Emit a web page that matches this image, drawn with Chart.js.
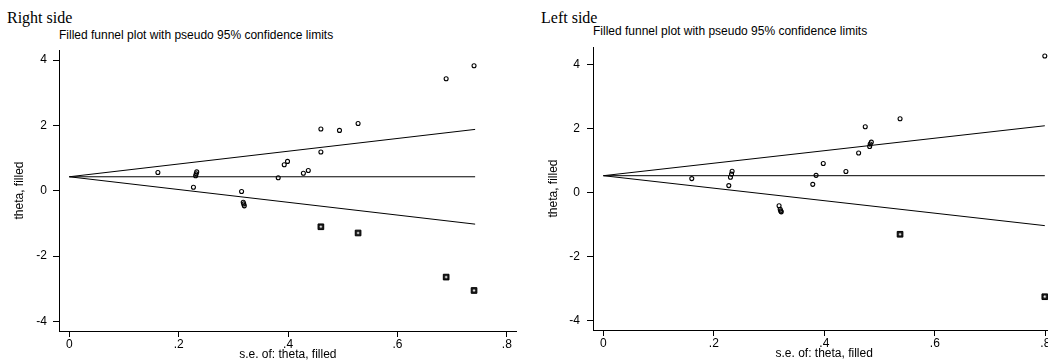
<!DOCTYPE html>
<html>
<head>
<meta charset="utf-8">
<script src="https://cdn.jsdelivr.net/npm/chart.js@4.4.1/dist/chart.umd.min.js"></script>
<style>
    html, body { margin: 0; padding: 0; background: #fff; width: 1048px; height: 360px; overflow: hidden; }
    .panel { position: absolute; top: 0; }
    .side { position: absolute; font-family: "Liberation Serif", "Times New Roman", serif; font-size: 16px; line-height: 16px; color: #000; white-space: nowrap; }
    .sub { position: absolute; font-family: "Liberation Sans", Arial, sans-serif; font-size: 12px; line-height: 12px; color: #000; white-space: nowrap; }
</style>
</head>
<body>

<div class="side" style="left:7px; top:10px;">Right side</div>
<div class="sub" style="left:59px; top:29px;">Filled funnel plot with pseudo 95% confidence limits</div>
<div class="panel" style="left:0px;"><canvas id="rightChart" width="524" height="360"></canvas></div>

<div class="side" style="left:541px; top:10px;">Left side</div>
<div class="sub" style="left:593px; top:25px;">Filled funnel plot with pseudo 95% confidence limits</div>
<div class="panel" style="left:524px;"><canvas id="leftChart" width="540" height="360"></canvas></div>

<script>
// ticks
var seTicks = [0, 0.2, 0.4, 0.6, 0.8];
var thetaTicks = [-4, -2, 0, 2, 4];

// "Right side" panel - observed studies
var rightSE = [0.162, 0.227, 0.231, 0.232, 0.233, 0.315, 0.318, 0.319, 0.320, 0.382,
               0.393, 0.399, 0.428, 0.437, 0.460, 0.460, 0.494, 0.528, 0.689, 0.740];
var rightTheta = [0.56, 0.11, 0.46, 0.52, 0.58, -0.02, -0.35, -0.40, -0.46, 0.40,
                  0.80, 0.90, 0.54, 0.62, 1.19, 1.89, 1.85, 2.06, 3.43, 3.83];
// filled (imputed) studies
var rightFilledSE = [0.460, 0.528, 0.689, 0.740];
var rightFilledTheta = [-1.10, -1.29, -2.64, -3.05];
// pooled line + pseudo 95% limits (end points)
var rightLineSE = [0, 0.742];
var rightPooled = [0.43, 0.43];
var rightUpper = [0.43, 1.88];
var rightLower = [0.43, -1.02];

// "Left side" panel
var leftSE = [0.160, 0.227, 0.230, 0.232, 0.233, 0.318, 0.320, 0.321, 0.322, 0.379,
              0.385, 0.398, 0.439, 0.462, 0.474, 0.482, 0.483, 0.485, 0.537, 0.799];
var leftTheta = [0.44, 0.22, 0.48, 0.58, 0.67, -0.41, -0.52, -0.57, -0.60, 0.26,
                 0.54, 0.91, 0.66, 1.24, 2.06, 1.44, 1.52, 1.58, 2.31, 4.27];
var leftFilledSE = [0.537, 0.799];
var leftFilledTheta = [-1.30, -3.25];
var leftLineSE = [0, 0.799];
var leftPooled = [0.53, 0.53];
var leftUpper = [0.53, 2.09];
var leftLower = [0.53, -1.03];

var sansFont = '"Liberation Sans", Arial, sans-serif';

function pts(xs, ys) {
    var out = [];
    for (var i = 0; i < xs.length; i++) {
        out.push({ x: xs[i], y: ys[i] });
    }
    return out;
}

function lineSet(xs, ys) {
    return {
        type: 'line',
        data: pts(xs, ys),
        borderColor: '#000',
        borderWidth: 1,
        pointRadius: 0,
        fill: false,
        order: 5
    };
}

function makeChart(id, p) {
    var ctx = document.getElementById(id).getContext('2d');
    return new Chart(ctx, {
        type: 'scatter',
        data: {
            datasets: [
                lineSet(p.lineSE, p.upper),
                lineSet(p.lineSE, p.lower),
                lineSet(p.lineSE, p.pooled),
                {
                    data: pts(p.se, p.theta),
                    pointStyle: 'circle',
                    pointRadius: 2,
                    borderWidth: 1.1,
                    borderColor: '#000',
                    backgroundColor: 'rgba(255,255,255,0)',
                    order: 2
                },
                {
                    data: pts(p.filledSE, p.filledTheta),
                    pointStyle: 'rect',
                    pointRadius: 4,
                    borderWidth: 1,
                    borderColor: '#000',
                    backgroundColor: '#1a1a1a',
                    order: 1
                },
                {
                    data: pts(p.filledSE, p.filledTheta),
                    pointStyle: 'circle',
                    pointRadius: 1.1,
                    borderWidth: 0.6,
                    borderColor: '#888',
                    backgroundColor: '#fff',
                    order: 0
                }
            ]
        },
        options: {
            responsive: false,
            animation: false,
            events: [],
            layout: { padding: { top: p.top, right: p.right, left: 0, bottom: 0 } },
            plugins: { legend: { display: false }, tooltip: { enabled: false } },
            scales: {
                x: {
                    type: 'linear',
                    min: -0.0188,
                    max: 0.818,
                    afterFit: function (s) { s.height = p.xHeight; },
                    afterBuildTicks: function (s) { s.ticks = seTicks.map(function (v) { return { value: v }; }); },
                    grid: { drawOnChartArea: false, drawTicks: true, tickLength: 6, color: '#000' },
                    border: { display: true, color: '#000', width: 1 },
                    ticks: {
                        autoSkip: false, maxRotation: 0, padding: 0, color: '#000',
                        font: { family: sansFont, size: 12 },
                        callback: function (v) { return v === 0 ? '0' : String(v).replace(/^0/, ''); }
                    },
                    title: {
                        display: true, text: 's.e. of: theta, filled', color: '#000',
                        font: { family: sansFont, size: 12 },
                        padding: { top: 0, bottom: p.xTitlePad }
                    }
                },
                y: {
                    type: 'linear',
                    min: p.yMin,
                    max: p.yMax,
                    afterFit: function (s) { s.width = p.yWidth; },
                    afterBuildTicks: function (s) { s.ticks = thetaTicks.map(function (v) { return { value: v }; }); },
                    grid: { drawOnChartArea: false, drawTicks: true, tickLength: 6, color: '#000' },
                    border: { display: true, color: '#000', width: 1 },
                    ticks: {
                        autoSkip: false, padding: p.yTickPad, color: '#000',
                        font: { family: sansFont, size: 12 },
                        callback: function (v) { return String(v); }
                    },
                    title: {
                        display: true, text: 'theta, filled', color: '#000',
                        font: { family: sansFont, size: 12 },
                        padding: { top: p.yTitlePad, bottom: 0 }
                    }
                }
            }
        }
    });
}

makeChart('rightChart', {
    se: rightSE, theta: rightTheta,
    filledSE: rightFilledSE, filledTheta: rightFilledTheta,
    lineSE: rightLineSE, pooled: rightPooled, upper: rightUpper, lower: rightLower,
    top: 50, right: 7.3, xHeight: 29, yWidth: 59,
    yMin: -4.29, yMax: 4.31, yTickPad: 6, yTitlePad: 12, xTitlePad: -2
});

makeChart('leftChart', {
    se: leftSE, theta: leftTheta,
    filledSE: leftFilledSE, filledTheta: leftFilledTheta,
    lineSE: leftLineSE, pooled: leftPooled, upper: leftUpper, lower: leftLower,
    top: 47, right: 8.7, xHeight: 30, yWidth: 69,
    yMin: -4.29, yMax: 4.55, yTickPad: 7, yTitlePad: 22, xTitlePad: -1
});
</script>
</body>
</html>
